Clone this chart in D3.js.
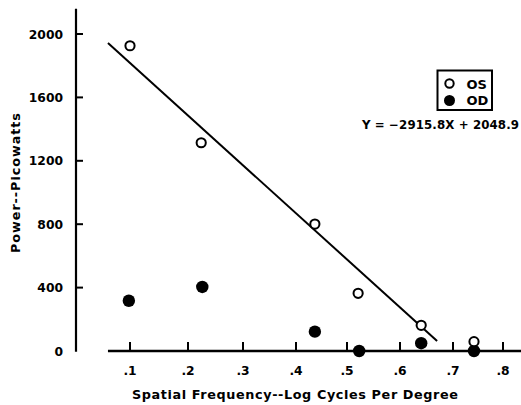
<!DOCTYPE html>
<html>
<head>
<meta charset="utf-8">
<script src="https://cdn.jsdelivr.net/npm/d3@7/dist/d3.min.js"></script>
<style>
  html, body { margin: 0; padding: 0; background: #fff; }
  svg { display: block; }
  text { font-family: "DejaVu Sans", sans-serif; font-weight: bold; fill: #000; }
</style>
</head>
<body>
<svg id="chart" width="521" height="405"></svg>
<script>
// ---- data ----
const xTicks = [0.1, 0.2, 0.3, 0.4, 0.5, 0.6, 0.7, 0.8];
const xTickLabels = [".1", ".2", ".3", ".4", ".5", ".6", ".7", ".8"];
const yTicks = [0, 400, 800, 1200, 1600, 2000];
const yTickLabels = ["0", "400", "800", "1200", "1600", "2000"];

const osX = [0.1, 0.224, 0.437, 0.521, 0.640, 0.742];
const osY = [1926, 1314, 801, 364, 162, 59];
const odX = [0.098, 0.226, 0.437, 0.523, 0.640, 0.742];
const odY = [317, 404, 122, 0, 49, 0];

const fitX = [0.062, 0.670];
const fitY = [1943, 63];

const legendLabels = ["OS", "OD"];
const equationText = "Y = \u22122915.8X + 2048.9";
const xTitle = "Spatial Frequency--Log Cycles Per Degree";
const yTitle = "Power--Picowatts";

// ---- layout ----
const svg = d3.select("#chart");
// hand-drawn x axis: tick marks are not evenly spaced, so use a piecewise linear scale
const xTickPx = [130, 188, 243, 296, 347, 400, 453, 503];
const x = d3.scaleLinear().domain(xTicks).range(xTickPx);
const y = d3.scaleLinear().domain([0, 2000]).range([351, 34]);

const ink = "#000";

// y axis line
svg.append("line")
  .attr("x1", 76).attr("x2", 76)
  .attr("y1", y(2160)).attr("y2", y(-5))
  .attr("stroke", ink).attr("stroke-width", 2.2);

// y ticks (pointing inward) and labels
const yg = svg.append("g");
yTicks.forEach((v, i) => {
  if (v > 0) {
    yg.append("line")
      .attr("x1", 76).attr("x2", 83)
      .attr("y1", y(v)).attr("y2", y(v))
      .attr("stroke", ink).attr("stroke-width", 2);
  }
  yg.append("text")
    .attr("x", 63).attr("y", y(v) + 4.5)
    .attr("text-anchor", "end")
    .attr("font-size", 12.3)
    .text(yTickLabels[i]);
});

// x axis line
svg.append("line")
  .attr("x1", x(0.062)).attr("x2", 521)
  .attr("y1", y(0)).attr("y2", y(0))
  .attr("stroke", ink).attr("stroke-width", 2.4);

// x ticks (pointing up) and labels
const xg = svg.append("g");
xTicks.forEach((v, i) => {
  xg.append("line")
    .attr("x1", x(v)).attr("x2", x(v))
    .attr("y1", y(0)).attr("y2", y(0) - 9)
    .attr("stroke", ink).attr("stroke-width", 2);
  xg.append("text")
    .attr("x", x(v)).attr("y", 375)
    .attr("text-anchor", "middle")
    .attr("font-size", 12.3)
    .text(xTickLabels[i]);
});

// regression line
svg.append("line")
  .attr("x1", x(fitX[0])).attr("y1", y(fitY[0]))
  .attr("x2", x(fitX[1])).attr("y2", y(fitY[1]))
  .attr("stroke", ink).attr("stroke-width", 2);

// OD filled points
svg.append("g").selectAll("circle")
  .data(odX.map((d, i) => [d, odY[i]]))
  .join("circle")
  .attr("cx", d => x(d[0])).attr("cy", d => y(d[1]))
  .attr("r", 6.2).attr("fill", ink);

// OS open points
svg.append("g").selectAll("circle")
  .data(osX.map((d, i) => [d, osY[i]]))
  .join("circle")
  .attr("cx", d => x(d[0])).attr("cy", d => y(d[1]))
  .attr("r", 4.6).attr("fill", "#fff")
  .attr("stroke", ink).attr("stroke-width", 2);

// legend
const lg = svg.append("g");
lg.append("rect")
  .attr("x", 437.5).attr("y", 70.5).attr("width", 54.5).attr("height", 39.5)
  .attr("fill", "none").attr("stroke", ink).attr("stroke-width", 2);
lg.append("circle").attr("cx", 449.5).attr("cy", 83.5).attr("r", 4.2)
  .attr("fill", "#fff").attr("stroke", ink).attr("stroke-width", 2);
lg.append("circle").attr("cx", 449.5).attr("cy", 100.5).attr("r", 5.5)
  .attr("fill", ink);
legendLabels.forEach((t, i) => {
  lg.append("text")
    .attr("x", 466.5).attr("y", 88.5 + i * 16.8)
    .attr("font-size", 13)
    .text(t);
});

// equation
svg.append("text")
  .attr("x", 362).attr("y", 128.5)
  .attr("font-size", 11.8)
  .attr("textLength", 157).attr("lengthAdjust", "spacing")
  .text(equationText);

// axis titles
svg.append("text")
  .attr("x", 132).attr("y", 399)
  .attr("font-size", 12.8)
  .attr("textLength", 326).attr("lengthAdjust", "spacing")
  .text(xTitle);

svg.append("text")
  .attr("transform", "translate(19.5,253) rotate(-90)")
  .attr("font-size", 12.8)
  .attr("textLength", 140).attr("lengthAdjust", "spacing")
  .text(yTitle);
</script>
</body>
</html>
